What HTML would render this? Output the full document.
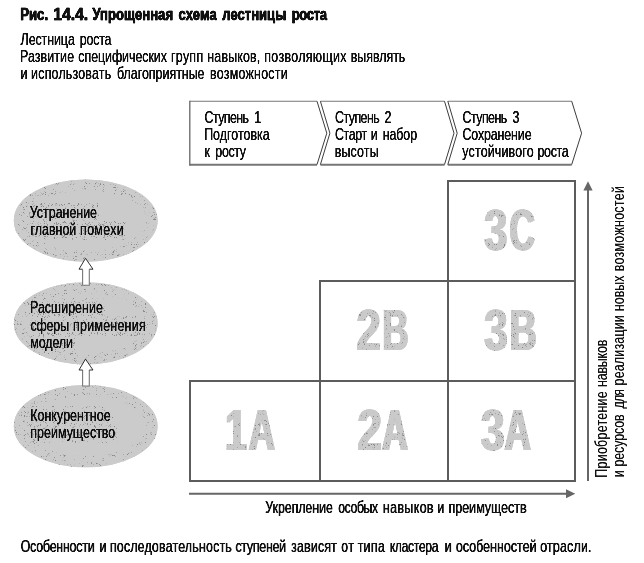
<!DOCTYPE html>
<html lang="ru"><head><meta charset="utf-8"><title>Рис. 14.4. Упрощенная схема лестницы роста</title>
<style>
html,body{margin:0;padding:0;background:#fff;}
body{width:644px;height:563px;overflow:hidden;}
svg{display:block;will-change:transform;}
text{font-family:"Liberation Sans",sans-serif;white-space:pre;}
</style></head><body>
<svg width="644" height="563" viewBox="0 0 644 563" role="img" aria-label="Упрощенная схема лестницы роста">
<defs>
<filter id="fx-h" filterUnits="userSpaceOnUse" x="0" y="0" width="644" height="563" color-interpolation-filters="sRGB"><feGaussianBlur stdDeviation="0.3 0"/><feComponentTransfer><feFuncA type="linear" slope="1.8" intercept="0"/></feComponentTransfer></filter>
<filter id="fx-t" filterUnits="userSpaceOnUse" x="0" y="0" width="644" height="563" color-interpolation-filters="sRGB"><feGaussianBlur stdDeviation="0.3 0"/><feComponentTransfer><feFuncA type="linear" slope="1.6" intercept="0"/></feComponentTransfer></filter>
<filter id="sp" filterUnits="userSpaceOnUse" x="0" y="0" width="644" height="563" color-interpolation-filters="sRGB"><feTurbulence type="fractalNoise" baseFrequency="1.9" numOctaves="1" seed="7" result="n"/><feColorMatrix in="n" type="matrix" values="0 0 0 0 0.53  0 0 0 0 0.53  0 0 0 0 0.53  12 0 0 0 -7.7" result="d"/><feComposite in="d" in2="SourceAlpha" operator="in" result="dd"/><feMerge><feMergeNode in="SourceGraphic"/><feMergeNode in="dd"/></feMerge></filter>
<filter id="sp2" filterUnits="userSpaceOnUse" x="0" y="0" width="644" height="563" color-interpolation-filters="sRGB"><feOffset in="SourceGraphic" dx="-1.4" result="o1"/><feOffset in="SourceGraphic" dx="-0.7" result="o2"/><feOffset in="SourceGraphic" dx="0.7" result="o3"/><feOffset in="SourceGraphic" dx="1.4" result="o4"/><feMerge result="fat"><feMergeNode in="o1"/><feMergeNode in="o4"/><feMergeNode in="o2"/><feMergeNode in="o3"/><feMergeNode in="SourceGraphic"/></feMerge><feTurbulence type="fractalNoise" baseFrequency="1.9" numOctaves="1" seed="11" result="n"/><feColorMatrix in="n" type="matrix" values="0 0 0 0 0.53  0 0 0 0 0.53  0 0 0 0 0.53  12 0 0 0 -7.7" result="d"/><feComposite in="d" in2="fat" operator="in" result="dd"/><feMerge><feMergeNode in="fat"/><feMergeNode in="dd"/></feMerge></filter>
<filter id="sp3" filterUnits="userSpaceOnUse" x="0" y="0" width="644" height="563" color-interpolation-filters="sRGB"><feTurbulence type="fractalNoise" baseFrequency="1.9" numOctaves="1" seed="23" result="n"/><feColorMatrix in="n" type="matrix" values="0 0 0 0 0.53  0 0 0 0 0.53  0 0 0 0 0.53  12 0 0 0 -7.45" result="d"/><feComposite in="d" in2="SourceAlpha" operator="in" result="dd"/><feMerge><feMergeNode in="SourceGraphic"/><feMergeNode in="dd"/></feMerge></filter>
<filter id="fx-v" filterUnits="userSpaceOnUse" x="0" y="0" width="644" height="563" color-interpolation-filters="sRGB"><feGaussianBlur stdDeviation="0 0.3"/><feComponentTransfer><feFuncA type="linear" slope="1.3" intercept="0"/></feComponentTransfer></filter>
</defs>
<rect width="644" height="563" fill="#fff"/>
<g id="ellipses" fill="#cbcbcb">
<ellipse cx="85.7" cy="220.6" rx="71.9" ry="41.1"/>
<ellipse cx="85.7" cy="323.3" rx="71.9" ry="41.1"/>
<ellipse cx="85.7" cy="426.2" rx="71.9" ry="41.1"/>
</g>
<g id="ellipse-grain" fill="none" stroke="#cbcbcb" stroke-width="11" filter="url(#sp)">
<ellipse cx="85.7" cy="220.6" rx="66.4" ry="35.6"/>
<ellipse cx="85.7" cy="323.3" rx="66.4" ry="35.6"/>
<ellipse cx="85.7" cy="426.2" rx="66.4" ry="35.6"/>
</g>
<clipPath id="ce1"><ellipse cx="85.7" cy="220.6" rx="70.5" ry="39.7"/></clipPath>
<clipPath id="ce2"><ellipse cx="85.7" cy="323.3" rx="70.5" ry="39.7"/></clipPath>
<clipPath id="ce3"><ellipse cx="85.7" cy="426.2" rx="70.5" ry="39.7"/></clipPath>
<g id="text-grain" fill="#cbcbcb" filter="url(#sp3)">
<rect x="27" y="203" width="73" height="19" rx="4" clip-path="url(#ce1)"/>
<rect x="27" y="221" width="99" height="19" rx="4" clip-path="url(#ce1)"/>
<rect x="27" y="298" width="78" height="19" rx="4" clip-path="url(#ce2)"/>
<rect x="27" y="316" width="121" height="20" rx="4" clip-path="url(#ce2)"/>
<rect x="27" y="336" width="48" height="17" rx="4" clip-path="url(#ce2)"/>
<rect x="27" y="406" width="86" height="19" rx="4" clip-path="url(#ce3)"/>
<rect x="27" y="424" width="91" height="19" rx="4" clip-path="url(#ce3)"/>
</g>
<g id="uparrows">
<path d="M82.6 269.2 V285.2 H89.3 V269.2" fill="#fff" stroke="#777" stroke-width="1.1"/><path d="M82.6 269.2 H79.0 L85.5 258.3 L93.0 269.2 H89.3" fill="#fff" stroke="#1a1a1a" stroke-width="0.9" stroke-linejoin="miter"/>
<path d="M82.6 370.0 V386.0 H89.3 V370.0" fill="#fff" stroke="#777" stroke-width="1.1"/><path d="M82.6 370.0 H79.0 L85.5 359.1 L93.0 370.0 H89.3" fill="#fff" stroke="#1a1a1a" stroke-width="0.9" stroke-linejoin="miter"/>
</g>
<g id="chevrons" fill="none">
<path d="M189.8 101.2 H317 M320.4 101.2 H444.5 M447.8 101.2 H571.7" stroke="#777" stroke-width="1.1"/>
<path d="M189.8 164.7 H317 M320.4 164.7 H444.5 M447.8 164.7 H571.7" stroke="#777" stroke-width="2"/>
<path d="M189.8 100.7 V165.7" stroke="#666" stroke-width="1.3"/>
<path d="M317 101.2 L326.8 133.2 L317 164.6 M320.4 101.2 L329.9 133.2 L320.4 164.6 M444.5 101.2 L454 133.2 L444.5 164.6 M447.8 101.2 L457.2 133.2 L447.8 164.6 M571.7 101.2 L581.6 133.2 L571.7 164.6" stroke="#3c3c3c" stroke-width="1" stroke-linejoin="miter"/>
</g>
<g id="grid" fill="none" stroke="#5c5c5c" stroke-width="2" stroke-linecap="square">
<path d="M448 181 H575 M320 281 H575 M190 381 H575 M190 481 H575"/>
<path d="M190 381 V481 M320 281 V481 M448 181 V481 M575 181 V481"/>
</g>
<g id="axes" fill="#666" stroke="#666">
<path d="M189 493.7 H567" fill="none" stroke-width="2"/>
<path d="M575.3 493.7 L566 489.2 L566 498.2 Z" stroke="none"/>
<path d="M588 481 V190" fill="none" stroke-width="2"/>
<path d="M588 181.2 L583.4 190.6 L592.6 190.6 Z" stroke="none"/>
</g>

<g id="biglabels" filter="url(#sp2)">
<g id="g1a"><text transform="translate(225.32,449.50) scale(0.6830,1.0)" font-size="57.0" font-weight="bold" fill="#cacaca">1</text><text transform="translate(248.64,449.50) scale(0.6374,1.0)" font-size="57.0" font-weight="bold" fill="#cacaca">A</text></g>
<g id="g2a"><text transform="translate(357.47,449.50) scale(0.7671,1.0)" font-size="57.0" font-weight="bold" fill="#cacaca">2</text><text transform="translate(382.06,449.50) scale(0.6295,1.0)" font-size="57.0" font-weight="bold" fill="#cacaca">A</text></g>
<g id="g3a"><text transform="translate(480.88,449.50) scale(0.7398,1.0)" font-size="57.0" font-weight="bold" fill="#cacaca">3</text><text transform="translate(504.54,449.50) scale(0.6400,1.0)" font-size="57.0" font-weight="bold" fill="#cacaca">A</text></g>
<g id="g2b"><text transform="translate(356.48,349.50) scale(0.7598,1.0)" font-size="57.0" font-weight="bold" fill="#cacaca">2</text><text transform="translate(382.46,349.50) scale(0.6302,1.0)" font-size="57.0" font-weight="bold" fill="#cacaca">B</text></g>
<g id="g3b"><text transform="translate(484.29,349.50) scale(0.7327,1.0)" font-size="57.0" font-weight="bold" fill="#cacaca">3</text><text transform="translate(509.45,349.50) scale(0.6590,1.0)" font-size="57.0" font-weight="bold" fill="#cacaca">B</text></g>
<g id="g3c"><text transform="translate(484.31,249.60) scale(0.7221,1.0)" font-size="57.0" font-weight="bold" fill="#cacaca">3</text><text transform="translate(509.54,249.60) scale(0.6148,1.0)" font-size="57.0" font-weight="bold" fill="#cacaca">C</text></g>
</g>
<g id="title" filter="url(#fx-t)">
<text id="t1_0" transform="translate(0,20.10) scale(0.7589,1.0)" font-size="17.4" font-weight="bold" fill="#111" stroke="#111" stroke-width="0.5" stroke-linejoin="round"><tspan x="26.59">Рис. </tspan></text><text id="t1_1" transform="translate(0,20.10) scale(0.9060,1.0)" font-size="17.4" font-weight="bold" fill="#111" stroke="#111" stroke-width="0.5" stroke-linejoin="round"><tspan x="58.70">14.4. </tspan></text><text id="t1_2" transform="translate(0,20.10) scale(0.7493,1.0)" font-size="17.4" font-weight="bold" fill="#111" stroke="#111" stroke-width="0.5" stroke-linejoin="round"><tspan x="123.42" letter-spacing="0.046">Упрощенная </tspan><tspan x="238.10" letter-spacing="0.224">схема </tspan><tspan x="296.65" letter-spacing="0.037">лестницы </tspan><tspan x="389.27" letter-spacing="-0.393">роста</tspan></text>
</g>
<g id="labels" filter="url(#fx-h)">
<text id="t2" transform="translate(0,44.80) scale(0.7498,1.0)" font-size="16.6" font-weight="normal" fill="#111"><tspan x="27.46" letter-spacing="-0.117">Лестница </tspan><tspan x="106.48" letter-spacing="-0.285">роста</tspan></text>
<text id="t3" transform="translate(0,61.75) scale(0.7498,1.0)" font-size="16.6" font-weight="normal" fill="#111"><tspan x="26.55" letter-spacing="0.133">Развитие </tspan><tspan x="104.52" letter-spacing="-0.088">специфических </tspan><tspan x="228.11" letter-spacing="0.363">групп </tspan><tspan x="276.52" letter-spacing="0.184">навыков, </tspan><tspan x="352.54" letter-spacing="0.420">позволяющих </tspan><tspan x="467.76" letter-spacing="-0.038">выявлять</tspan></text>
<text id="t4" transform="translate(0,78.70) scale(0.7498,1.0)" font-size="16.6" font-weight="normal" fill="#111"><tspan x="27.22">и </tspan><tspan x="41.47" letter-spacing="0.256">использовать </tspan><tspan x="155.95" letter-spacing="-0.005">благоприятные </tspan><tspan x="280.19" letter-spacing="0.306">возможности</tspan></text>
<text id="c1a" transform="translate(0,122.75) scale(0.7498,1.0)" font-size="16.6" font-weight="normal" fill="#111"><tspan x="272.77" letter-spacing="-0.776">Ступень </tspan><tspan x="339.13">1</tspan></text>
<text id="c1b" transform="translate(0,139.75) scale(0.7498,1.0)" font-size="16.6" font-weight="normal" fill="#111"><tspan x="272.27" letter-spacing="0.021">Подготовка</tspan></text>
<text id="c1c" transform="translate(0,156.60) scale(0.7498,1.0)" font-size="16.6" font-weight="normal" fill="#111"><tspan x="272.67">к </tspan><tspan x="287.19" letter-spacing="-0.462">росту</tspan></text>
<text id="c2a" transform="translate(0,122.75) scale(0.7498,1.0)" font-size="16.6" font-weight="normal" fill="#111"><tspan x="446.81" letter-spacing="-0.720">Ступень </tspan><tspan x="512.89">2</tspan></text>
<text id="c2b" transform="translate(0,139.75) scale(0.7498,1.0)" font-size="16.6" font-weight="normal" fill="#111"><tspan x="446.81" letter-spacing="-0.558">Старт </tspan><tspan x="494.42">и </tspan><tspan x="510.44" letter-spacing="-0.114">набор</tspan></text>
<text id="c2c" transform="translate(0,156.60) scale(0.7498,1.0)" font-size="16.6" font-weight="normal" fill="#111"><tspan x="446.56" letter-spacing="0.161">высоты</tspan></text>
<text id="c3a" transform="translate(0,122.75) scale(0.7498,1.0)" font-size="16.6" font-weight="normal" fill="#111"><tspan x="616.84" letter-spacing="-0.720">Ступень </tspan><tspan x="683.52">3</tspan></text>
<text id="c3b" transform="translate(0,139.75) scale(0.7498,1.0)" font-size="16.6" font-weight="normal" fill="#111"><tspan x="616.84" letter-spacing="-0.185">Сохранение</tspan></text>
<text id="c3c" transform="translate(0,156.60) scale(0.7498,1.0)" font-size="16.6" font-weight="normal" fill="#111"><tspan x="616.53" letter-spacing="0.233">устойчивого </tspan><tspan x="716.95" letter-spacing="-0.502">роста</tspan></text>
<text id="e1a" transform="translate(0,217.70) scale(0.7498,1.0)" font-size="16.6" font-weight="normal" fill="#111"><tspan x="39.76" letter-spacing="-0.012">Устранение</tspan></text>
<text id="e1b" transform="translate(0,234.90) scale(0.7498,1.0)" font-size="16.6" font-weight="normal" fill="#111"><tspan x="40.60" letter-spacing="0.016">главной </tspan><tspan x="106.82" letter-spacing="0.419">помехи</tspan></text>
<text id="e2a" transform="translate(0,313.00) scale(0.7498,1.0)" font-size="16.6" font-weight="normal" fill="#111"><tspan x="39.95" letter-spacing="0.070">Расширение</tspan></text>
<text id="e2b" transform="translate(0,330.50) scale(0.7498,1.0)" font-size="16.6" font-weight="normal" fill="#111"><tspan x="40.58" letter-spacing="-0.183">сферы </tspan><tspan x="97.48" letter-spacing="0.322">применения</tspan></text>
<text id="e2c" transform="translate(0,348.00) scale(0.7498,1.0)" font-size="16.6" font-weight="normal" fill="#111"><tspan x="40.33" letter-spacing="-0.134">модели</tspan></text>
<text id="e3a" transform="translate(0,420.90) scale(0.7498,1.0)" font-size="16.6" font-weight="normal" fill="#111"><tspan x="40.22" letter-spacing="0.080">Конкурентное</tspan></text>
<text id="e3b" transform="translate(0,438.10) scale(0.7498,1.0)" font-size="16.6" font-weight="normal" fill="#111"><tspan x="40.47" letter-spacing="0.025">преимущество</tspan></text>
<text id="ax" transform="translate(0,513.00) scale(0.7498,1.0)" font-size="16.6" font-weight="normal" fill="#111"><tspan x="353.83" letter-spacing="-0.099">Укрепление </tspan><tspan x="451.06" letter-spacing="-0.688">особых </tspan><tspan x="510.57" letter-spacing="0.505">навыков </tspan><tspan x="583.34">и </tspan><tspan x="598.19" letter-spacing="0.006">преимуществ</tspan></text>
<text id="ft" transform="translate(0,552.00) scale(0.7498,1.0)" font-size="16.6" font-weight="normal" fill="#111"><tspan x="27.51" letter-spacing="-0.315">Особенности </tspan><tspan x="132.67">и </tspan><tspan x="146.49" letter-spacing="0.235">последовательность </tspan><tspan x="313.90" letter-spacing="-0.361">ступеней </tspan><tspan x="388.17" letter-spacing="0.208">зависят </tspan><tspan x="454.93" letter-spacing="0.795">от </tspan><tspan x="476.90" letter-spacing="0.389">типа </tspan><tspan x="519.64" letter-spacing="-0.635">кластера </tspan><tspan x="593.00">и </tspan><tspan x="607.97" letter-spacing="0.032">особенностей </tspan><tspan x="720.46" letter-spacing="0.221">отрасли.</tspan></text>
</g>
<g id="vlabels" filter="url(#fx-v)">
<text id="v1" transform="translate(606.90,0) rotate(-90) scale(0.7498,1.0)" font-size="16.6" font-weight="normal" fill="#111"><tspan x="-637.12" letter-spacing="0.363">Приобретение </tspan><tspan x="-516.05" letter-spacing="-0.276">навыков</tspan></text>
<text id="v2" transform="translate(624.00,0) rotate(-90) scale(0.7498,1.0)" font-size="16.6" font-weight="normal" fill="#111"><tspan x="-636.63">и </tspan><tspan x="-622.20" letter-spacing="-0.141">ресурсов </tspan><tspan x="-544.79" letter-spacing="-1.151">для </tspan><tspan x="-514.04" letter-spacing="0.236">реализации </tspan><tspan x="-414.96" letter-spacing="0.009">новых </tspan><tspan x="-361.88" letter-spacing="0.386">возможностей</tspan></text>
</g>
</svg>
</body></html>
